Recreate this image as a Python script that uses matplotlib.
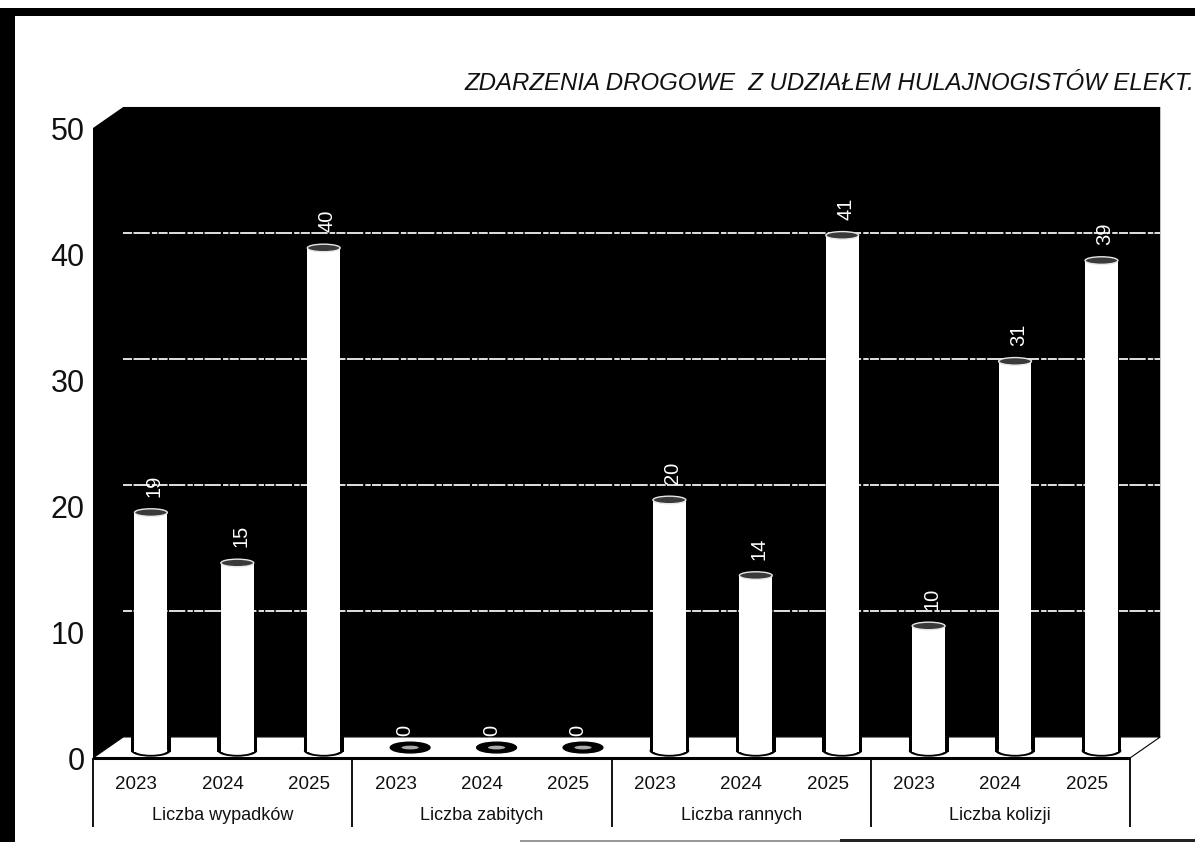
import matplotlib
matplotlib.use('agg')
import matplotlib.pyplot as plt
from matplotlib.patches import Ellipse, Polygon, Rectangle
import numpy as np

plt.rcParams['font.family'] = ['Liberation Sans', 'DejaVu Sans']

title = "ZDARZENIA DROGOWE  Z UDZIAŁEM HULAJNOGISTÓW ELEKT."
groups = ["Liczba wypadków", "Liczba zabitych", "Liczba rannych", "Liczba kolizji"]
years = ["2023", "2024", "2025"]
wypadki = [19, 15, 40]
zabici = [0, 0, 0]
ranni = [20, 14, 41]
kolizje = [10, 31, 39]
yticks = [0, 10, 20, 30, 40, 50]

W, H = 1195, 842
fig = plt.figure(figsize=(W / 100, H / 100), dpi=100, facecolor='white')
ax = fig.add_axes([93 / W, 1 - 758 / H, (1130 - 93) / W, (758 - 128) / H])
ax.set_xlim(0, 12)
ax.set_ylim(0, 50)
for s in ax.spines.values():
    s.set_visible(False)
ax.patch.set_visible(False)

# fake 3d box, depth in data units
depth_x = 0.35
depth_y = 1.67
bar_dx = 0.17
bar_dy = 0.48

ax.add_patch(Polygon([(0, 0), (0, 50), (depth_x, 50 + depth_y), (12 + depth_x, 50 + depth_y),
                      (12 + depth_x, depth_y), (depth_x, depth_y)],
                     closed=True, fc='black', ec='none', zorder=1, clip_on=False))
ax.add_patch(Polygon([(0, 0), (depth_x, depth_y), (12 + depth_x, depth_y), (12, 0)],
                     closed=True, fc='white', ec='black', lw=0.8, zorder=1, clip_on=False))

# dashed grid on the back wall
ax.hlines([t + depth_y for t in yticks[1:-1]], depth_x, 12 + depth_x, color='#f2f2f2', lw=1.3,
          linestyles=[(0, (5, 0.8, 9, 1.2, 3, 0.7))], zorder=2, clip_on=False)

values = np.array(wypadki + zabici + ranni + kolizje)
x = np.arange(len(values)) + 0.5
bx = x + bar_dx

ax.bar(bx, values, width=0.38, bottom=bar_dy, color='white', edgecolor='none', zorder=4, clip_on=False)

for xi, v in zip(bx, values):
    if v > 0:
        # black collar where the cylinder stands on the floor
        ax.add_patch(Rectangle((xi - 0.23, bar_dy), 0.46, depth_y - bar_dy, fc='black', ec='none', zorder=3, clip_on=False))
        ax.add_patch(Ellipse((xi, bar_dy + 0.1), 0.46, 0.95, fc='black', ec='none', zorder=3, clip_on=False))
        ax.add_patch(Ellipse((xi, bar_dy + 0.12), 0.38, 0.7, fc='white', ec='none', zorder=4, clip_on=False))
        ax.add_patch(Ellipse((xi, v + bar_dy), 0.38, 0.6, fc='#3a3a3a', ec='#e8e8e8', lw=1.0, zorder=5, clip_on=False))
        ax.text(xi + 0.04, v + bar_dy + 1.25, str(v), rotation=90, ha='center', va='bottom',
                color='white', fontsize=14.5, zorder=6)
    else:
        ax.add_patch(Ellipse((xi, bar_dy + 0.35), 0.46, 0.85, fc='black', ec='black', zorder=5, clip_on=False))
        ax.add_patch(Ellipse((xi, bar_dy + 0.35), 0.2, 0.3, fc='#aaaaaa', ec='none', zorder=6, clip_on=False))
        ax.text(xi - 0.06, bar_dy + 1.25, str(v), rotation=90, ha='center', va='bottom',
                color='white', fontsize=14.5, zorder=6)

# axis line and group separators
ax.plot([0, 12], [0, 0], color='black', lw=2.2, zorder=7, clip_on=False, solid_capstyle='butt')
ax.vlines(np.arange(0, 13, 3), -69 / 12.6, 0, color='black', lw=1.3, zorder=7, clip_on=False)

ax.set_yticks(yticks)
ax.set_yticklabels([str(t) for t in yticks], fontsize=22, color='#111111')
ax.tick_params(axis='y', length=0, pad=6)
ax.set_xticks(x)
ax.set_xticklabels(years * 4, fontsize=13.5, color='#111111')
ax.tick_params(axis='x', length=0, pad=13)

for i, g in enumerate(groups):
    ax.text(3 * i + 1.5, -57 / 12.6, g, ha='center', va='center', fontsize=13, color='#111111', clip_on=False)

# no narrow face here, so smaller size to fit the width of the scan
fig.text(464 / W, 1 - 84 / H, title, ha='left', va='center', style='italic', fontsize=17.3, color='#111111')

# scan border
fig.add_artist(Rectangle((0, 0), 15 / W, 1 - 8 / H, transform=fig.transFigure, fc='black', ec='none'))
fig.add_artist(Rectangle((0, 1 - 16 / H), 1, 8 / H, transform=fig.transFigure, fc='black', ec='none'))
fig.add_artist(Rectangle((840 / W, 0), 1 - 840 / W, 3 / H, transform=fig.transFigure, fc='#222222', ec='none'))
fig.add_artist(Rectangle((520 / W, 0), 320 / W, 2 / H, transform=fig.transFigure, fc='#999999', ec='none'))

fig.savefig('out.png', dpi=100, facecolor='white')
